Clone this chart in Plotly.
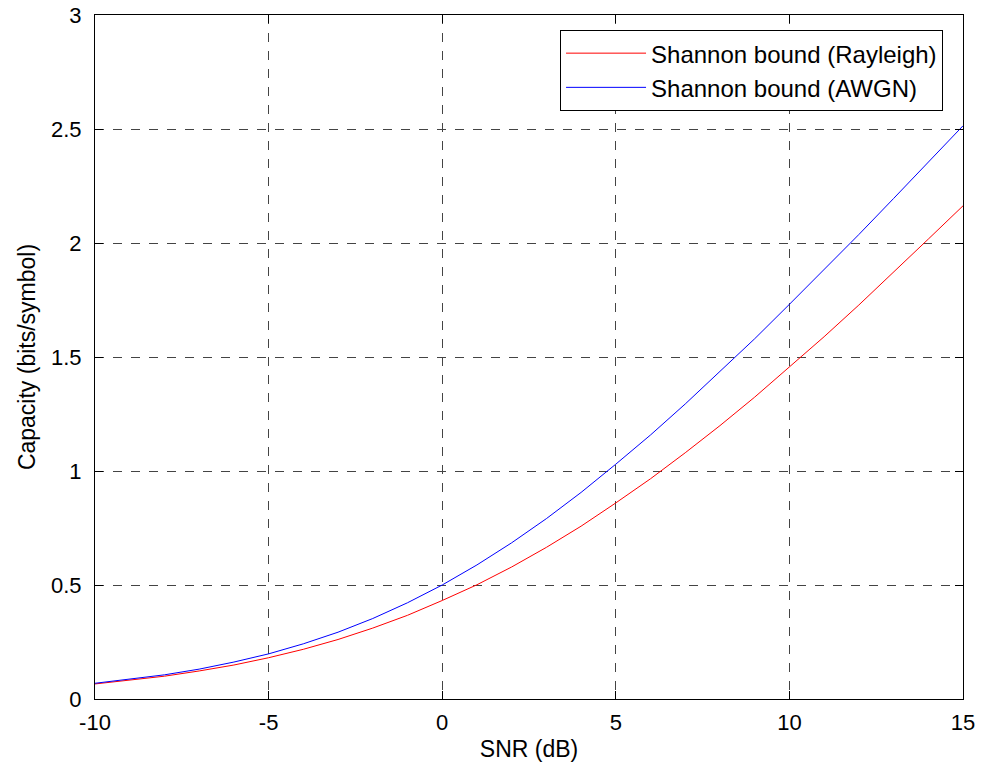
import plotly.graph_objects as go

snr_db = [-10, -9, -8, -7, -6, -5, -4, -3, -2, -1, 0, 1, 2, 3, 4, 5, 6, 7, 8, 9, 10, 11, 12, 13, 14, 15]
cap_rayleigh = [0.066, 0.082, 0.100, 0.123, 0.149, 0.181, 0.218, 0.261, 0.311, 0.367, 0.432, 0.501, 0.579, 0.665, 0.758, 0.860,
                0.966, 1.080, 1.199, 1.324, 1.455, 1.589, 1.728, 1.871, 2.017, 2.163]
cap_awgn = [0.069, 0.086, 0.106, 0.131, 0.162, 0.198, 0.242, 0.293, 0.353, 0.422, 0.500, 0.588, 0.685, 0.791, 0.906, 1.030,
            1.158, 1.294, 1.435, 1.580, 1.731, 1.882, 2.037, 2.195, 2.354, 2.514]

x_ticks = [-10, -5, 0, 5, 10, 15]
x_tick_text = ["-10", "-5", "0", "5", "10", "15"]
y_ticks = [0, 0.5, 1, 1.5, 2, 2.5, 3]
y_tick_text = ["0", "0.5", "1", "1.5", "2", "2.5", "3"]

FONT = "Liberation Sans, Arial, Helvetica, sans-serif"

fig = go.Figure()
fig.add_trace(go.Scatter(x=snr_db, y=cap_rayleigh, mode="lines", name="Shannon bound (Rayleigh)",
                         line=dict(color="#ff0000", width=1)))
fig.add_trace(go.Scatter(x=snr_db, y=cap_awgn, mode="lines", name="Shannon bound (AWGN)",
                         line=dict(color="#0000ff", width=1)))

axis_common = dict(
    showline=True, linecolor="black", linewidth=1, mirror="ticks",
    ticks="inside", ticklen=8, tickcolor="black", tickwidth=1,
    showgrid=True, gridcolor="#444444", griddash="dash", gridwidth=1,
    zeroline=False, automargin=False,
    tickfont=dict(family=FONT, size=22, color="black"),
)

fig.update_xaxes(range=[-10, 15], tickvals=x_ticks, ticktext=x_tick_text, ticklabelstandoff=4, **axis_common,
                 title=dict(text="SNR (dB)", standoff=6,
                            font=dict(family=FONT, size=23, color="black")))
fig.update_yaxes(range=[0, 3], tickvals=y_ticks, ticktext=y_tick_text, ticklabelstandoff=8, **axis_common,
                 title=dict(text="Capacity (bits/symbol)", standoff=8,
                            font=dict(family=FONT, size=23, color="black")))

fig.update_layout(
    width=981, height=774,
    margin=dict(l=95, r=18, t=15, b=75),
    paper_bgcolor="white", plot_bgcolor="white",
    legend=dict(x=0.977, y=0.978, xanchor="right", yanchor="top",
                bgcolor="white", bordercolor="black", borderwidth=1,
                font=dict(family=FONT, size=24, color="black"),
                itemwidth=80, tracegroupgap=0),
)

fig.write_html("out.html")
